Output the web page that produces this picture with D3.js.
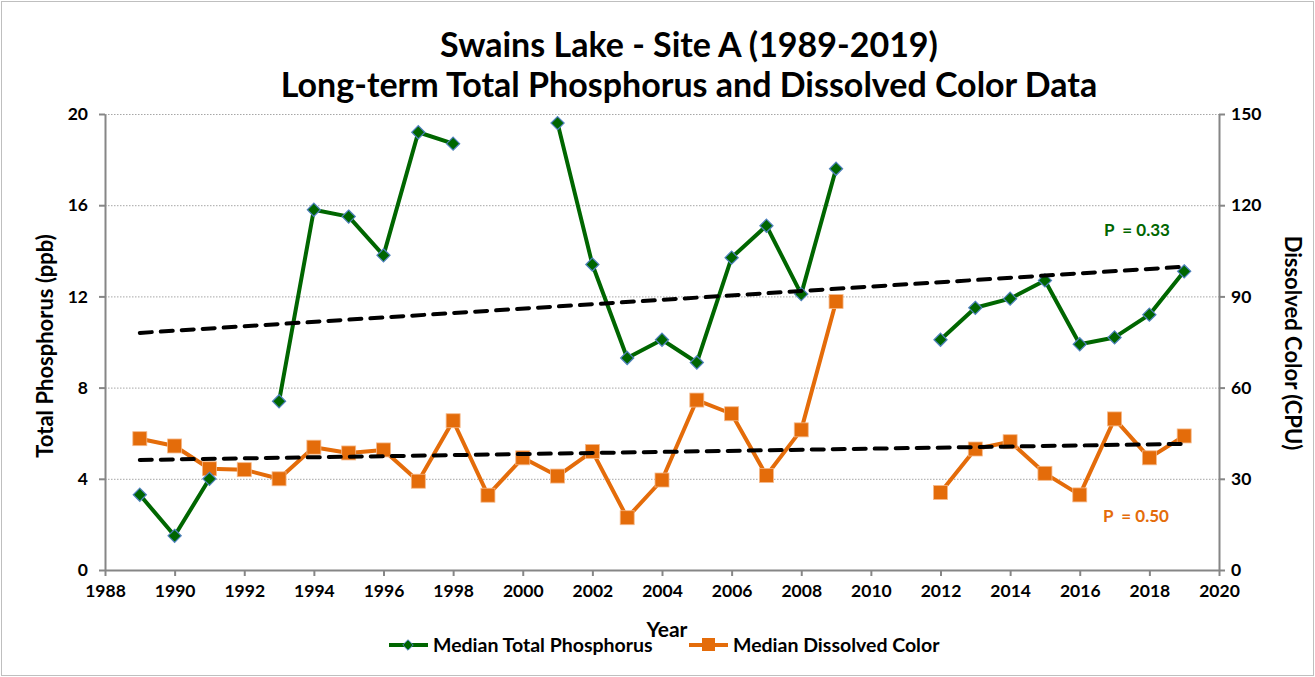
<html>
<head>
<meta charset="utf-8">
<script src="https://d3js.org/d3.v7.min.js"></script>
<style>
  body { margin: 0; background: #fff; }
  text { font-family: Lato, "Open Sans", sans-serif; font-weight: bold; }
</style>
</head>
<body>
<div id="chart"></div>
<script>
// years and medians (null = no sample that year)
var years = [1989, 1990, 1991, 1992, 1993, 1994, 1995, 1996, 1997, 1998, 1999, 2000, 2001, 2002, 2003, 2004,
  2005, 2006, 2007, 2008, 2009, 2010, 2011, 2012, 2013, 2014, 2015, 2016, 2017, 2018, 2019];
var phosphorus = [3.3, 1.5, 4.0, null, 7.4, 15.8, 15.5, 13.8, 19.2, 18.7, null, null, 19.6, 13.4, 9.3, 10.1,
  9.1, 13.7, 15.1, 12.1, 17.6, null, null, 10.1, 11.5, 11.9, 12.7, 9.9, 10.2, 11.2, 13.1];
var color = [43.2, 40.8, 33.3, 33.0, 30.0, 40.4, 38.5, 39.5, 29.2, 49.1, 24.6, 36.9, 30.9, 39.0, 17.2, 29.6,
  55.9, 51.4, 31.1, 46.1, 88.3, null, null, 25.5, 39.8, 42.2, 31.8, 24.7, 49.7, 36.9, 44.1];

// trend line end points (start year, end year)
var trendYears = [1989, 2019];
var tpTrend = [10.4, 13.3];
var colorTrend = [36.2, 41.5];

var xTicks = d3.range(1988, 2021, 2);
var tpTicks = [0, 4, 8, 12, 16, 20];
var colorTicks = [0, 30, 60, 90, 120, 150];

var W = 1315, H = 677;
var margin = { top: 114, right: 96, bottom: 107, left: 105 };
var width = W - margin.left - margin.right,
    height = H - margin.top - margin.bottom;

var green = "#006600", orange = "#E46C0A", grid = "#a6a6a6", axisCol = "#868686";

var svg = d3.select("#chart").append("svg")
  .attr("width", W).attr("height", H);

// outer chart border
svg.append("rect").attr("x", 1.5).attr("y", 1.5)
  .attr("width", W - 3).attr("height", H - 3)
  .attr("fill", "white").attr("stroke", "#bfbfbf");

var g = svg.append("g").attr("transform", "translate(" + margin.left + "," + margin.top + ")");

var x = d3.scaleLinear().domain([1988, 2020]).range([0, width]);
var yL = d3.scaleLinear().domain([0, 20]).range([height, 0]);
var yR = d3.scaleLinear().domain([0, 150]).range([height, 0]);

// gridlines
g.append("g").selectAll("line").data(tpTicks.slice(1)).enter().append("line")
  .attr("x1", 0).attr("x2", width)
  .attr("y1", function (d) { return yL(d) + 0.5; })
  .attr("y2", function (d) { return yL(d) + 0.5; })
  .attr("stroke", grid).attr("stroke-width", 1).attr("stroke-dasharray", "1.5,1.5");

// axes
var styleAxis = function (sel) {
  sel.selectAll(".domain").attr("stroke", axisCol).attr("stroke-width", 2);
  sel.selectAll(".tick line").attr("stroke", axisCol).attr("stroke-width", 2);
  sel.selectAll(".tick text").attr("fill", "#000").style("font-size", "17.5px")
    .style("font-family", "Lato, sans-serif").style("font-weight", "bold");
};

g.append("g").attr("transform", "translate(0," + height + ")")
  .call(d3.axisBottom(x).tickValues(xTicks).tickFormat(d3.format("d")).tickSize(6).tickSizeOuter(0).tickPadding(9))
  .call(styleAxis);

g.append("g")
  .call(d3.axisLeft(yL).tickValues(tpTicks).tickSize(6).tickSizeOuter(0).tickPadding(11))
  .call(styleAxis);

g.append("g").attr("transform", "translate(" + width + ",0)")
  .call(d3.axisRight(yR).tickValues(colorTicks).tickSize(6).tickSizeOuter(0).tickPadding(6))
  .call(styleAxis);

// trend lines
var trend = function (vals, scale) {
  g.append("line")
    .attr("x1", x(trendYears[0])).attr("y1", scale(vals[0]))
    .attr("x2", x(trendYears[1])).attr("y2", scale(vals[1]))
    .attr("stroke", "#000").attr("stroke-width", 4)
    .attr("stroke-dasharray", "12,9").attr("stroke-linecap", "round");
};

// series
var tpData = years.map(function (d, i) { return { year: d, v: phosphorus[i] }; });
var colorData = years.map(function (d, i) { return { year: d, v: color[i] }; });

var lineTP = d3.line().defined(function (d) { return d.v != null; })
  .x(function (d) { return x(d.year); }).y(function (d) { return yL(d.v); });
var lineColor = d3.line().defined(function (d) { return d.v != null; })
  .x(function (d) { return x(d.year); }).y(function (d) { return yR(d.v); });

g.append("path").datum(colorData).attr("d", lineColor)
  .attr("fill", "none").attr("stroke", orange).attr("stroke-width", 4).attr("stroke-linejoin", "round");

g.selectAll(".sq").data(colorData.filter(function (d) { return d.v != null; })).enter().append("rect")
  .attr("x", function (d) { return x(d.year) - 7; })
  .attr("y", function (d) { return yR(d.v) - 7; })
  .attr("width", 14).attr("height", 14)
  .attr("fill", orange).attr("stroke", "#f5b98a").attr("stroke-width", 0.8);

trend(colorTrend, yR);

g.append("path").datum(tpData).attr("d", lineTP)
  .attr("fill", "none").attr("stroke", green).attr("stroke-width", 4).attr("stroke-linejoin", "round");

var diamond = d3.symbol().type(d3.symbolDiamond2).size(110);
g.selectAll(".dm").data(tpData.filter(function (d) { return d.v != null; })).enter().append("path")
  .attr("d", diamond)
  .attr("transform", function (d) { return "translate(" + x(d.year) + "," + yL(d.v) + ")"; })
  .attr("fill", green).attr("stroke", "#4f81bd").attr("stroke-width", 1.2);

trend(tpTrend, yL);

// P labels
svg.append("text").attr("x", 1104).attr("y", 236).attr("fill", green)
  .style("font-size", "17px").attr("xml:space", "preserve").text("P  = 0.33");
svg.append("text").attr("x", 1103).attr("y", 522).attr("fill", orange)
  .style("font-size", "17px").attr("xml:space", "preserve").text("P  = 0.50");

// titles
svg.append("text").attr("x", 689).attr("y", 57).attr("text-anchor", "middle")
  .style("font-size", "34px").text("Swains Lake - Site A (1989-2019)");
svg.append("text").attr("x", 689).attr("y", 97).attr("text-anchor", "middle")
  .style("font-size", "34px").text("Long-term Total Phosphorus and Dissolved Color Data");

svg.append("text").attr("transform", "translate(53,346) rotate(-90)").attr("text-anchor", "middle")
  .style("font-size", "22px").text("Total Phosphorus (ppb)");
svg.append("text").attr("transform", "translate(1285,343) rotate(90)").attr("text-anchor", "middle")
  .style("font-size", "22px").text("Dissolved Color (CPU)");
svg.append("text").attr("x", 667).attr("y", 637).attr("text-anchor", "middle")
  .style("font-size", "21px").text("Year");

// legend
var leg = svg.append("g").attr("transform", "translate(0,645)");
leg.append("line").attr("x1", 389).attr("x2", 428).attr("y1", 0).attr("y2", 0)
  .attr("stroke", green).attr("stroke-width", 4);
leg.append("path").attr("d", d3.symbol().type(d3.symbolDiamond2).size(70))
  .attr("transform", "translate(408,0)").attr("fill", green).attr("stroke", "#4f81bd");
leg.append("text").attr("x", 433).attr("y", 7).style("font-size", "19.5px").text("Median Total Phosphorus");
leg.append("line").attr("x1", 689).attr("x2", 728).attr("y1", 0).attr("y2", 0)
  .attr("stroke", orange).attr("stroke-width", 4);
leg.append("rect").attr("x", 702).attr("y", -7).attr("width", 13).attr("height", 13).attr("fill", orange);
leg.append("text").attr("x", 733).attr("y", 7).style("font-size", "19.5px").text("Median Dissolved Color");
</script>
</body>
</html>
